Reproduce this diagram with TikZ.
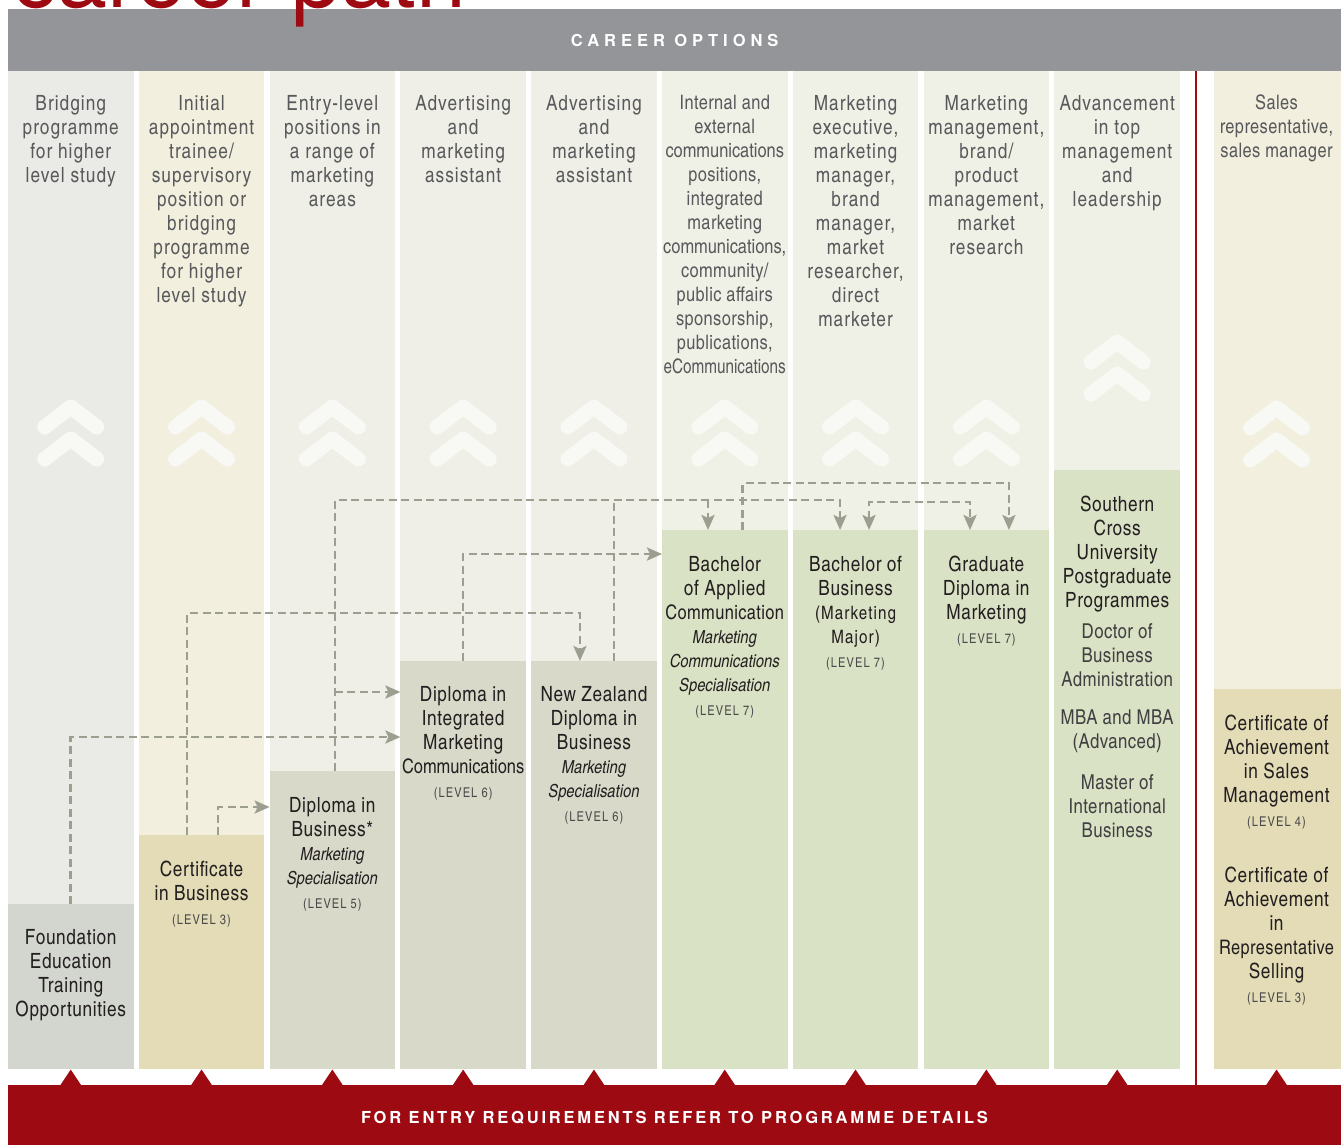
\documentclass[tikz,border=0pt]{standalone}
\usepackage{fontspec}
\setmainfont{texgyreheroscn}[Extension=.otf, UprightFont=*-regular, BoldFont=*-bold, ItalicFont=*-italic, BoldItalicFont=*-bolditalic]
\newfontfamily\herosfont{texgyreheros}[Extension=.otf, UprightFont=*-regular, BoldFont=*-bold]
\usetikzlibrary{arrows.meta}
\definecolor{hdrgray}{HTML}{939598}
\definecolor{careerred}{HTML}{9E0A12}
\definecolor{bgA}{HTML}{EAEBE6}
\definecolor{bgCream}{HTML}{F2EFDF}
\definecolor{bgB}{HTML}{EFEFE7}
\definecolor{bgG}{HTML}{F0F1E6}
\definecolor{boxGrey}{HTML}{D3D5CF}
\definecolor{boxTan}{HTML}{E3DCB6}
\definecolor{boxStone}{HTML}{D9D9C9}
\definecolor{boxGreen}{HTML}{DAE2C5}
\definecolor{chevcol}{HTML}{F8F8F4}
\definecolor{conncol}{HTML}{9C9F90}
\definecolor{hdtext}{HTML}{58595B}
\definecolor{bxtext}{HTML}{231F20}
\definecolor{lvlcol}{HTML}{4A4A4A}
\newcommand\itl[1]{{\fontsize{18}{24}\selectfont\itshape\addfontfeatures{LetterSpace=0}#1}}
\newcommand\lvl[1]{{\fontsize{13.5}{24}\selectfont\addfontfeatures{LetterSpace=8}\color{lvlcol}#1}}
\newcommand\smr[1]{{\fontsize{18.5}{24}\selectfont\addfontfeatures{LetterSpace=6}#1}}
\newcommand\nls[1]{{\fontsize{20}{24}\selectfont\addfontfeatures{LetterSpace=0}#1}}
\newcommand\nlt[1]{{\fontsize{20}{24}\selectfont\addfontfeatures{LetterSpace=2}#1}}
\tikzset{
  colbg/.style={rectangle, inner sep=0, outer sep=0, anchor=north west, minimum width=125.5pt, minimum height=998pt},
  prog/.style={rectangle, inner sep=0, outer sep=0, anchor=south west, minimum width=125.5pt},
  hdr/.style={anchor=north, inner sep=0, align=center, text=hdtext, font=\fontsize{21}{24}\selectfont\addfontfeatures{LetterSpace=5}},
  hdrtight/.style={hdr, font=\fontsize{20}{24}\selectfont\addfontfeatures{LetterSpace=2}},
  btxt/.style={anchor=north, inner sep=0, align=center, text=bxtext, font=\fontsize{21}{24}\selectfont\addfontfeatures{LetterSpace=3}},
  bsub/.style={btxt, text=hdtext!55!bxtext, font=\fontsize{20.5}{24}\selectfont\addfontfeatures{LetterSpace=2}},
  conn/.style={draw=conncol, line width=2.6pt, dash pattern=on 8pt off 4.5pt},
  arr/.style={-{Stealth[length=15pt,width=13pt,inset=3pt]}},
  arrboth/.style={{Stealth[length=15pt,width=13pt,inset=3pt]}-{Stealth[length=15pt,width=13pt,inset=3pt]}},
  chevline/.style={draw=chevcol, line width=15pt, line cap=round, line join=round},
  dblchev/.pic={
    \draw[chevline] (-26,27) -- (0,7) -- (26,27);
    \draw[chevline] (-26,59) -- (0,39) -- (26,59);
  }
}
\begin{document}
\begin{tikzpicture}[x=1pt,y=-1pt]
\clip (0,0) rectangle (1341,1144);
\fill[white] (0,0) rectangle (1341,1144);
% column backgrounds
\node[colbg, fill=bgA] (col1) at (8,71) {};
\node[colbg, fill=bgCream] (col2) at (138.8,71) {};
\node[colbg, fill=bgB] (col3) at (269.6,71) {};
\node[colbg, fill=bgB] (col4) at (400.4,71) {};
\node[colbg, fill=bgB] (col5) at (531.2,71) {};
\node[colbg, fill=bgG] (col6) at (662,71) {};
\node[colbg, fill=bgG] (col7) at (792.8,71) {};
\node[colbg, fill=bgG] (col8) at (923.6,71) {};
\node[colbg, fill=bgG] (col9) at (1054.4,71) {};
\node[colbg, fill=bgCream, minimum width=127pt] (col10) at (1214,71) {};
% header bar
\node[rectangle, inner sep=0, anchor=north west, fill=hdrgray, minimum width=1333pt, minimum height=62pt,
      text=white, font=\herosfont\bfseries\fontsize{16.5}{20}\selectfont\addfontfeatures{LetterSpace=30}] (header) at (8,9) {CAREER OPTIONS};
% title (cut off by the page top)
\node[anchor=base west, inner sep=0, text=careerred, font=\herosfont\fontsize{90}{90}\selectfont] (title) at (12,7) {career path};
% chevrons
\pic at (70.75,400) {dblchev};
\pic at (201.55,400) {dblchev};
\pic at (332.35,400) {dblchev};
\pic at (463.15,400) {dblchev};
\pic at (593.95,400) {dblchev};
\pic at (724.75,400) {dblchev};
\pic at (855.55,400) {dblchev};
\pic at (986.35,400) {dblchev};
\pic at (1117.15,335) {dblchev};
\pic at (1276.5,401) {dblchev};
% career option texts
\node[hdr] (h1) at (70.75,95) {Bridging\\programme\\for higher\\level study};
\node[hdr] (h2) at (201.55,95) {Initial\\appointment\\trainee/\\supervisory\\position or\\bridging\\programme\\for higher\\level study};
\node[hdr] (h3) at (332.35,95) {Entry-level\\positions in\\a range of\\marketing\\areas};
\node[hdr] (h4) at (463.15,95) {Advertising\\and\\marketing\\assistant};
\node[hdr] (h5) at (593.95,95) {Advertising\\and\\marketing\\assistant};
\node[hdrtight] (h6) at (724.75,95) {Internal and\\external\\\nls{communications}\\positions,\\integrated\\marketing\\\nls{communications,}\\community/\\public affairs\\sponsorship,\\publications,\\\scalebox{0.93}[1]{\nls{eCommunications}}};
\node[hdr] (h7) at (855.55,95) {Marketing\\executive,\\marketing\\manager,\\brand\\manager,\\market\\researcher,\\direct\\marketer};
\node[hdr] (h8) at (986.35,95) {Marketing\\management,\\brand/\\product\\management,\\market\\research};
\node[hdr] (h9) at (1117.15,95) {Advancement\\in top\\management\\and\\leadership};
\node[hdrtight] (h10) at (1276.5,95) {Sales\\representative,\\sales manager};
% programme boxes
\node[prog, fill=boxGrey, minimum height=165pt] (found) at (8,1069) {};
\node[prog, fill=boxTan, minimum height=234pt] (cert) at (138.8,1069) {};
\node[prog, fill=boxStone, minimum height=298pt] (dbus) at (269.6,1069) {};
\node[prog, fill=boxStone, minimum height=408pt] (dimc) at (400.4,1069) {};
\node[prog, fill=boxStone, minimum height=408pt] (nz) at (531.2,1069) {};
\node[prog, fill=boxGreen, minimum height=539pt] (bac) at (662,1069) {};
\node[prog, fill=boxGreen, minimum height=539pt] (bb) at (792.8,1069) {};
\node[prog, fill=boxGreen, minimum height=539pt] (gd) at (923.6,1069) {};
\node[prog, fill=boxGreen, minimum height=599pt] (scu) at (1054.4,1069) {};
\node[prog, fill=boxTan, minimum height=380pt, minimum width=127pt] (coa) at (1214,1069) {};
% programme texts
\node[btxt] (t1) at (70.75,929) {Foundation\\Education\\Training\\Opportunities};
\node[btxt] (t2) at (201.55,861) {Certificate\\in Business\\\lvl{(LEVEL 3)}};
\node[btxt] (t3) at (332.35,797) {Diploma in\\Business*\\\itl{Marketing}\\\itl{Specialisation}\\\lvl{(LEVEL 5)}};
\node[btxt] (t4) at (463.15,686) {Diploma in\\Integrated\\Marketing\\\nls{Communications}\\\lvl{(LEVEL 6)}};
\node[btxt] (t5) at (593.95,686) {New Zealand\\Diploma in\\Business\\\itl{Marketing}\\\itl{Specialisation}\\\lvl{(LEVEL 6)}};
\node[btxt] (t6) at (724.75,556) {Bachelor\\of Applied\\\nlt{Communication}\\\itl{Marketing}\\\itl{Communications}\\\itl{Specialisation}\\\lvl{(LEVEL 7)}};
\node[btxt] (t7) at (855.55,556) {Bachelor of\\Business\\\smr{(Marketing}\\\smr{Major)}\\\lvl{(LEVEL 7)}};
\node[btxt] (t8) at (986.35,556) {Graduate\\Diploma in\\Marketing\\\lvl{(LEVEL 7)}};
\node[btxt] (t9a) at (1117.15,496) {Southern\\Cross\\University\\Postgraduate\\Programmes};
\node[bsub] (t9b) at (1117.15,623) {Doctor of\\Business\\Administration};
\node[bsub] (t9c) at (1117.15,710) {MBA and MBA\\(Advanced)};
\node[bsub] (t9d) at (1117.15,774) {Master of\\International\\Business};
\node[btxt] (t10a) at (1276.5,715) {Certificate of\\Achievement\\in Sales\\Management\\\lvl{(LEVEL 4)}};
\node[btxt] (t10b) at (1276.5,867) {Certificate of\\Achievement\\in\\\nlt{Representative}\\Selling\\\lvl{(LEVEL 3)}};
% divider
\draw[careerred, line width=2.5pt] (1196,71) -- (1196,1085);
% routing coordinates
\coordinate (yA) at (0,737);
\coordinate (yB) at (0,613);
\coordinate (yC) at (0,807);
\coordinate (yD) at (0,500);
\coordinate (yE) at (0,692);
\coordinate (yF) at (0,554);
\coordinate (yG) at (0,483);
\coordinate (yH) at (0,502);
\coordinate (bS) at ([xshift=-14.5pt]cert.north);
\coordinate (bE) at ([xshift=-14pt]nz.north);
\coordinate (cS) at ([xshift=16.5pt]cert.north);
\coordinate (dS) at ([xshift=2.6pt]dbus.north);
\coordinate (dE) at ([xshift=-15.5pt]bb.north);
\coordinate (dM) at ([xshift=-16.75pt]bac.north);
\coordinate (fS) at ([xshift=20pt]nz.north);
\coordinate (gS) at ([xshift=18pt]bac.north);
\coordinate (gE) at ([xshift=22.6pt]gd.north);
\coordinate (hA) at ([xshift=13.5pt]bb.north);
\coordinate (hB) at ([xshift=-16.35pt]gd.north);
% connectors
\draw[conn, arr] (found.north) |- (dimc.west |- yA);
\draw[conn, arr] (bS) |- (bE |- yB) -- (bE);
\draw[conn, arr] (cS) |- (dbus.west |- yC);
\draw[conn, arr] (dS) |- (dE |- yD) -- (dE);
\draw[conn, arr] (dS |- yE) -- (dimc.west |- yE);
\draw[conn, arr] (dM |- yD) -- (dM);
\draw[conn, arr] (dimc.north) |- (bac.west |- yF);
\draw[conn] (fS) -- (fS |- yD);
\draw[conn, arr] (gS) |- (gE |- yG) -- (gE);
\draw[conn, arrboth] (hA) |- (hB |- yH) -- (hB);
% footer
\node[rectangle, inner sep=0, anchor=north west, fill=careerred, minimum width=1333pt, minimum height=60pt] (footer) at (8,1085) {};
\foreach \cx in {70.75,201.55,332.35,463.15,593.95,724.75,855.55,986.35,1117.15,1276.5}
  \fill[careerred] (\cx-11,1086) -- (\cx,1069.5) -- (\cx+11,1086) -- cycle;
\node[text=white, inner sep=0, font=\herosfont\bfseries\fontsize{16.5}{20}\selectfont\addfontfeatures{LetterSpace=17}] (footnote) at (674.5,1118) {FOR ENTRY REQUIREMENTS REFER TO PROGRAMME DETAILS};
\end{tikzpicture}
\end{document}
